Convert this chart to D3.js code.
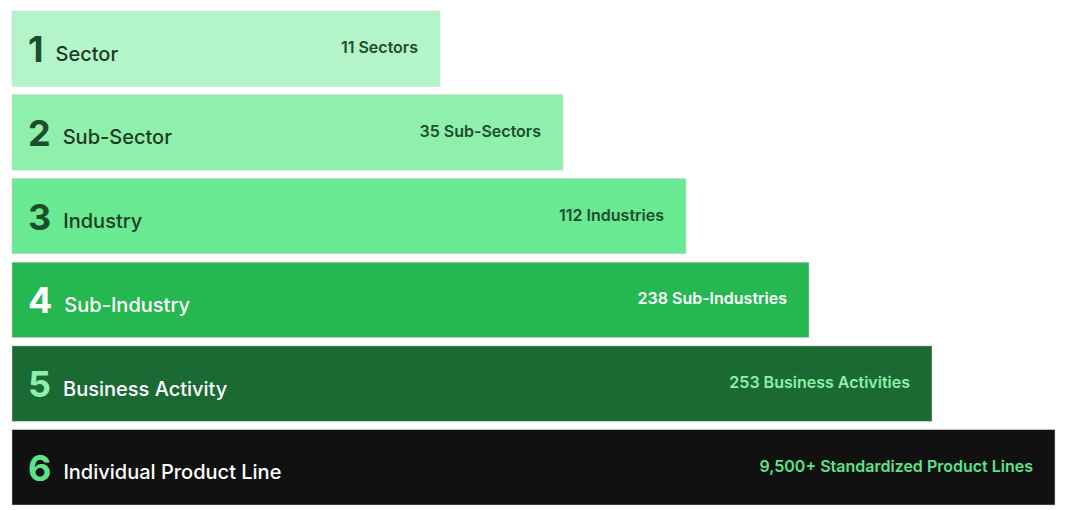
<!DOCTYPE html>
<html>
<head>
<meta charset="utf-8">
<script src="https://d3js.org/d3.v7.min.js"></script>
<style>
  body { margin: 0; background: #fff; }
  text { font-family: Inter, "Noto Sans", sans-serif; }
</style>
</head>
<body>
<svg id="chart" width="1066" height="510"></svg>
<script>
var levels = [1, 2, 3, 4, 5, 6];
var names = ["Sector", "Sub-Sector", "Industry", "Sub-Industry", "Business Activity", "Individual Product Line"];
var counts = ["11 Sectors", "35 Sub-Sectors", "112 Industries", "238 Sub-Industries", "253 Business Activities", "9,500+ Standardized Product Lines"];
var fills = ["#b3f5c9", "#8ff0ac", "#69e991", "#25b850", "#1b6a33", "#111111"];
var numColors = ["#1d4d2b", "#1d4d2b", "#1d4d2b", "#ffffff", "#8ef0aa", "#5fe38a"];
var textColors = ["#1d3a25", "#1d3a25", "#1d3a25", "#ffffff", "#ffffff", "#ffffff"];
var countColors = ["#1d4d2b", "#1d4d2b", "#1d4d2b", "#ffffff", "#8ef0aa", "#5fe38a"];

var svg = d3.select("#chart");
var left = 12;
var x = d3.scaleLinear().domain([1, 6]).range([440, 1055]);
var y = d3.scaleBand().domain(levels).range([11, 505]).paddingInner(0.1);

var g = svg.selectAll("g.bar").data(levels).enter().append("g").attr("class", "bar")
  .attr("transform", function (d) { return "translate(0," + y(d) + ")"; });

g.append("rect")
  .attr("x", left)
  .attr("width", function (d) { return x(d) - left; })
  .attr("height", y.bandwidth())
  .attr("fill", function (d, i) { return fills[i]; })
  .attr("stroke", "#d0d0d0").attr("stroke-width", 0.5);

var nums = g.append("text")
  .attr("x", 28).attr("y", y.bandwidth() * 0.68)
  .attr("font-size", 36).attr("font-weight", 700)
  .attr("fill", function (d, i) { return numColors[i]; })
  .text(function (d) { return d; });

g.append("text")
  .attr("x", function (d, i) { return 28 + nums.nodes()[i].getComputedTextLength() + 12; })
  .attr("y", y.bandwidth() * 0.66)
  .attr("font-size", 20).attr("font-weight", 500)
  .attr("fill", function (d, i) { return textColors[i]; })
  .text(function (d, i) { return names[i]; });

g.append("text")
  .attr("x", function (d) { return x(d) - 22; })
  .attr("y", y.bandwidth() * 0.56)
  .attr("text-anchor", "end")
  .attr("font-size", 16).attr("font-weight", 600)
  .attr("fill", function (d, i) { return countColors[i]; })
  .text(function (d, i) { return counts[i]; });
</script>
</body>
</html>
